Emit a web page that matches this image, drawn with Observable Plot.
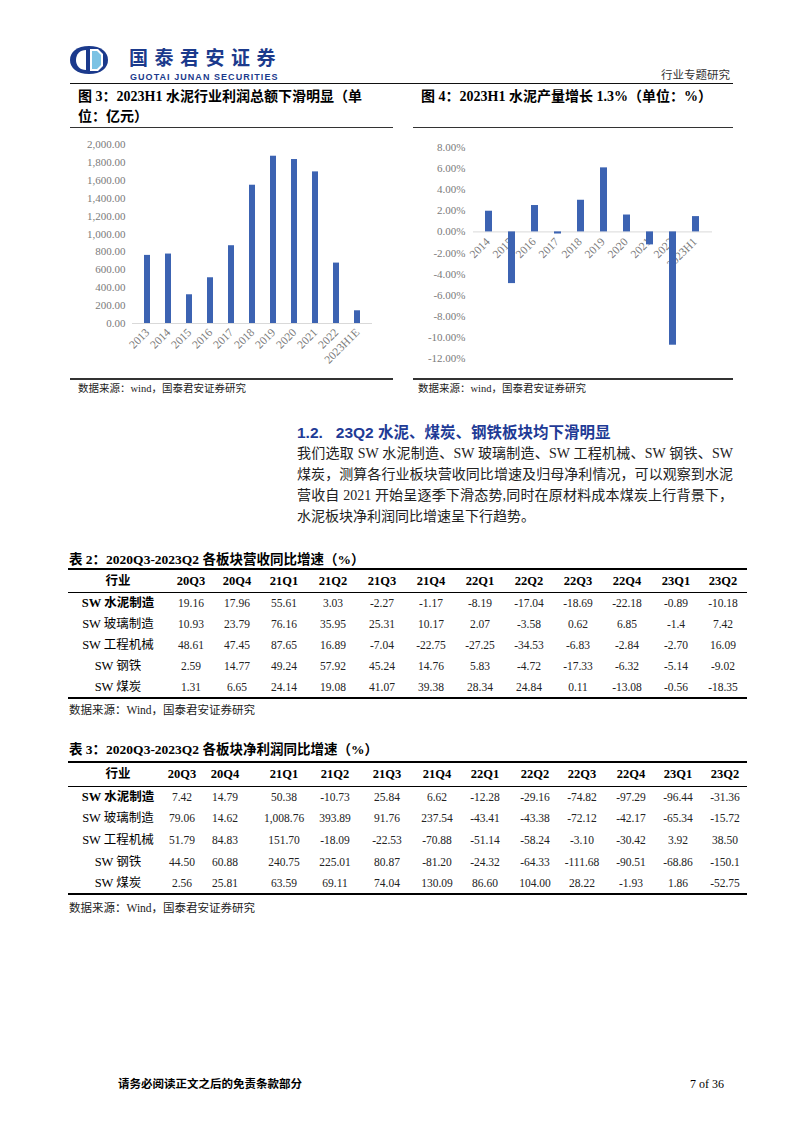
<!DOCTYPE html>
<html>
<head>
<meta charset="utf-8">
<script src="https://cdn.jsdelivr.net/npm/d3@7"></script>
<script src="https://cdn.jsdelivr.net/npm/@observablehq/plot@0.6"></script>
<style>
html,body{margin:0;padding:0;background:#fff;}
#page{position:relative;width:802px;height:1133px;overflow:hidden;font-family:"Liberation Serif","Noto Sans CJK SC",serif;color:#000;}
.abs{position:absolute;white-space:nowrap;}
.chart{position:absolute;}
.chart svg{overflow:visible;}
</style>
</head>
<body>
<div id="page"></div>
<script>
// ---------- DATA ----------
const profitYears = ["2013","2014","2015","2016","2017","2018","2019","2020","2021","2022","2023H1E"];
const profitValues = [761, 776, 321, 511, 869, 1545, 1869, 1832, 1694, 675, 142];
const profitTicks = [0, 200, 400, 600, 800, 1000, 1200, 1400, 1600, 1800, 2000];

const outputYears = ["2014","2015","2016","2017","2018","2019","2020","2021","2022","2023H1"];
const outputValues = [1.96, -4.90, 2.50, -0.20, 3.00, 6.07, 1.60, -1.23, -10.74, 1.45];
const outputTicks = [-12, -10, -8, -6, -4, -2, 0, 2, 4, 6, 8];

const quarters = ["20Q3","20Q4","21Q1","21Q2","21Q3","21Q4","22Q1","22Q2","22Q3","22Q4","23Q1","23Q2"];
const industries = ["SW 水泥制造","SW 玻璃制造","SW 工程机械","SW 钢铁","SW 煤炭"];
const revenueGrowth = [
 ["19.16","17.96","55.61","3.03","-2.27","-1.17","-8.19","-17.04","-18.69","-22.18","-0.89","-10.18"],
 ["10.93","23.79","76.16","35.95","25.31","10.17","2.07","-3.58","0.62","6.85","-1.4","7.42"],
 ["48.61","47.45","87.65","16.89","-7.04","-22.75","-27.25","-34.53","-6.83","-2.84","-2.70","16.09"],
 ["2.59","14.77","49.24","57.92","45.24","14.76","5.83","-4.72","-17.33","-6.32","-5.14","-9.02"],
 ["1.31","6.65","24.14","19.08","41.07","39.38","28.34","24.84","0.11","-13.08","-0.56","-18.35"]
];
const netProfitGrowth = [
 ["7.42","14.79","50.38","-10.73","25.84","6.62","-12.28","-29.16","-74.82","-97.29","-96.44","-31.36"],
 ["79.06","14.62","1,008.76","393.89","91.76","237.54","-43.41","-43.38","-72.12","-42.17","-65.34","-15.72"],
 ["51.79","84.83","151.70","-18.09","-22.53","-70.88","-51.14","-58.24","-3.10","-30.42","3.92","38.50"],
 ["44.50","60.88","240.75","225.01","80.87","-81.20","-24.32","-64.33","-111.68","-90.51","-68.86","-150.1"],
 ["2.56","25.81","63.59","69.11","74.04","130.09","86.60","104.00","28.22","-1.93","1.86","-52.75"]
];

const paragraphLines = [
 "我们选取 SW 水泥制造、SW 玻璃制造、SW 工程机械、SW 钢铁、SW",
 "煤炭，测算各行业板块营收同比增速及归母净利情况，可以观察到水泥",
 "营收自 2021 开始呈逐季下滑态势,同时在原材料成本煤炭上行背景下，",
 "水泥板块净利润同比增速呈下行趋势。"
];

// ---------- LAYOUT HELPERS ----------
const page = document.getElementById("page");
const BLUE = "#3c63b2";
const GRAY = "#7a7a7a";
const CJK = '"Noto Sans CJK SC", sans-serif';
const SERIF = '"Liberation Serif", "Noto Sans CJK SC", serif';

function put(html, left, top, css) {
  const d = document.createElement("div");
  d.className = "abs";
  d.innerHTML = html;
  d.style.left = left + "px";
  d.style.top = top + "px";
  Object.assign(d.style, css || {});
  page.appendChild(d);
  return d;
}
function hline(x1, x2, y, w, color) {
  put("", x1, y - w / 2, {width: (x2 - x1) + "px", height: w + "px", background: color || "#000"});
}

// ---------- HEADER ----------
put(`<svg width="40" height="30" viewBox="0 0 40 30">
  <path d="M20 1 C8 1 1 7 1 15 C1 23 8 29 20 29 C32 29 39 23 39 15 C39 7 32 1 20 1Z" fill="#1b3a8c"/>
  <path d="M17 5 C11 5 7 9 7 15 C7 21 11 25 17 25 Z" fill="#fff"/>
  <path d="M21 4 L29 4 L34 9 L34 21 L29 26 L21 26 Z" fill="#fff"/>
  <path d="M23 6 L28 6 L32 10 L32 20 L28 24 L23 24 Z" fill="#7cc3e4"/>
</svg>`, 69, 45);
put("国泰君安证券", 129, 46, {fontFamily: CJK, fontWeight: 700, fontSize: "19px", lineHeight: "22px", height: "22px", color: "#1b3a8c", letterSpacing: "6.5px"});
put("GUOTAI JUNAN SECURITIES", 130, 71.5, {fontFamily: '"Liberation Sans", sans-serif', fontWeight: 700, fontSize: "9px", lineHeight: "10px", color: "#1b3a8c", letterSpacing: "1.05px"});
put("行业专题研究", 661, 66, {fontFamily: CJK, fontSize: "11.5px", lineHeight: "16px", color: "#333"});
hline(70, 733, 83.5, 1.5, "#111");

// ---------- CHART TITLES ----------
const titleCss = {fontFamily: SERIF, fontWeight: 700, fontSize: "14px", lineHeight: "20px"};
put("图 3：2023H1 水泥行业利润总额下滑明显（单<br>位：亿元）", 78, 87, titleCss);
put("图 4：2023H1 水泥产量增长 1.3%（单位：%）", 421, 87, titleCss);
hline(70, 393, 127.5, 1.5, "#333");
hline(413, 733, 127.5, 1.5, "#333");
hline(70, 393, 379, 1.5, "#333");
hline(413, 733, 379, 1.5, "#333");
const srcCss = {fontFamily: SERIF, fontSize: "10.5px", lineHeight: "14px", color: "#222"};
put("数据来源：wind，国泰君安证券研究", 78, 382, srcCss);
put("数据来源：wind，国泰君安证券研究", 418, 382, srcCss);

// ---------- CHART 1 ----------
const profitData = profitYears.map((y, i) => ({year: y, value: profitValues[i]}));
const chart1 = Plot.plot({
  width: 320, height: 240,
  marginLeft: 59, marginRight: 21, marginTop: 12, marginBottom: 49,
  style: {fontFamily: '"Liberation Serif", serif', fontSize: "11px", color: GRAY, background: "transparent"},
  x: {domain: profitYears, paddingInner: 0.72, paddingOuter: 0.5, axis: null},
  y: {domain: [0, 2000], axis: null},
  marks: [
    Plot.axisY({ticks: profitTicks, tickFormat: d3.format(",.2f"), tickSize: 0, tickPadding: 7, label: null, fill: GRAY}),
    Plot.ruleY([0], {stroke: "#d9d9d9"}),
    Plot.text(profitData, {x: "year", y: 0, text: "year", rotate: -45, textAnchor: "end", dx: 0, dy: 7, fill: GRAY, fontSize: 11.5}),
    Plot.barY(profitData, {x: "year", y: "value", fill: BLUE})
  ]
});
const c1 = document.createElement("div");
c1.className = "chart"; c1.style.left = "73px"; c1.style.top = "132px";
c1.appendChild(chart1); page.appendChild(c1);

// ---------- CHART 2 ----------
const outputData = outputYears.map((y, i) => ({year: y, value: outputValues[i]}));
const chart2 = Plot.plot({
  width: 320, height: 240,
  marginLeft: 60, marginRight: 21, marginTop: 12, marginBottom: 17,
  style: {fontFamily: '"Liberation Serif", serif', fontSize: "11px", color: GRAY, background: "transparent"},
  x: {domain: outputYears, paddingInner: 0.675, paddingOuter: 0.37, axis: null},
  y: {domain: [-12, 8], axis: null},
  marks: [
    Plot.axisY({ticks: outputTicks, tickFormat: d => d.toFixed(2) + "%", tickSize: 0, tickPadding: 8, label: null, fill: GRAY, stroke: "#e3e3e3", line: true}),
    Plot.ruleY([0], {stroke: "#d9d9d9"}),
    Plot.text(outputData, {x: "year", y: 0, text: "year", rotate: -45, textAnchor: "end", dx: -1, dy: 8, fill: GRAY, fontSize: 11.5}),
    Plot.barY(outputData, {x: "year", y: "value", fill: BLUE})
  ]
});
const c2 = document.createElement("div");
c2.className = "chart"; c2.style.left = "413px"; c2.style.top = "135px";
c2.appendChild(chart2); page.appendChild(c2);

// ---------- SECTION TEXT ----------
put("1.2.&nbsp;&nbsp;&nbsp;23Q2 水泥、煤炭、钢铁板块均下滑明显", 297, 422, {fontFamily: '"Liberation Sans", "Noto Sans CJK SC", sans-serif', fontWeight: 700, fontSize: "15.5px", lineHeight: "22px", color: "#1f3b96"});
const paraTops = [443, 464, 485, 506];
paragraphLines.forEach((line, i) => {
  const justify = i < paragraphLines.length - 1;
  put(line, 297, paraTops[i], {fontFamily: SERIF, fontSize: "14px", lineHeight: "21px", width: "436px", whiteSpace: "normal",
    textAlign: justify ? "justify" : "left", textAlignLast: justify ? "justify" : "left", color: "#222"});
});

// ---------- TABLES ----------
function drawTable(title, rows, opt) {
  put(title, 69, opt.titleY - 10, {fontFamily: SERIF, fontWeight: 700, fontSize: "13.5px", lineHeight: "20px"});
  hline(68, 747, opt.topY, 2, "#000");
  hline(68, 747, opt.headY, 1, "#000");
  hline(68, 747, opt.bottomY, 2, "#000");
  const cell = (txt, cx, cy, css) => put(txt, cx - 45, cy - 8, Object.assign({width: "90px", textAlign: "center", lineHeight: "16px", fontFamily: SERIF, fontSize: "12px"}, css || {}));
  const hc = (opt.topY + opt.headY) / 2;
  cell("行业", opt.firstX, hc, {fontWeight: 700, fontSize: "12.5px"});
  quarters.forEach((q, j) => cell(q, opt.centers[j], hc, {fontWeight: 700, fontSize: "12.5px"}));
  const rh = (opt.bottomY - opt.headY) / rows.length;
  rows.forEach((r, i) => {
    const cy = opt.headY + rh * (i + 0.5);
    cell(industries[i], opt.firstX, cy, {fontWeight: i === 0 ? 700 : 400, fontSize: "12.5px"});
    r.forEach((v, j) => cell(v, opt.centers[j], cy, {fontSize: "11.5px", color: "#222"}));
  });
  put("数据来源：Wind，国泰君安证券研究", 69, opt.srcY - 8, {fontFamily: SERIF, fontSize: "11.5px", lineHeight: "16px", color: "#222"});
}
drawTable("表 2：2020Q3-2023Q2 各板块营收同比增速（%）", revenueGrowth, {
  titleY: 560, topY: 569, headY: 592, bottomY: 697.5, srcY: 710, firstX: 118,
  centers: [191, 237, 284, 333, 382, 431, 480, 529, 578, 627, 676, 723]
});
drawTable("表 3：2020Q3-2023Q2 各板块净利润同比增速（%）", netProfitGrowth, {
  titleY: 750, topY: 762, headY: 786, bottomY: 894, srcY: 908, firstX: 118,
  centers: [182, 225, 284, 335, 387, 437, 485, 535, 582, 631, 678, 725]
});

// ---------- FOOTER ----------
put("请务必阅读正文之后的免责条款部分", 118, 1076, {fontFamily: SERIF, fontWeight: 700, fontSize: "11.5px", lineHeight: "16px"});
put("7 of 36", 690, 1076, {fontFamily: SERIF, fontSize: "12px", lineHeight: "16px"});
</script>
</body>
</html>
